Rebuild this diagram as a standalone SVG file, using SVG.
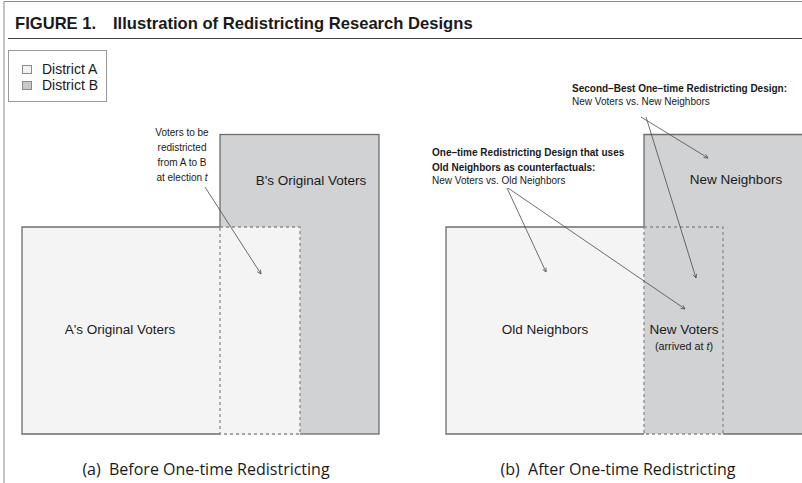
<svg xmlns="http://www.w3.org/2000/svg" width="802" height="483" viewBox="0 0 802 483">
  <style>
    .sans { font-family: "Liberation Sans", Arial, Helvetica, sans-serif; fill: #1a1a1a; }
    .title { font-size: 16.6px; font-weight: bold; }
    .legend { font-size: 14px; }
    .label { font-size: 13.5px; text-anchor: middle; }
    .note { font-size: 10px; }
    .noteb { font-size: 10px; font-weight: bold; }
    .small { font-size: 10.8px; text-anchor: middle; }
    .caption { font-family: "Open Sans", "Noto Sans", sans-serif; font-size: 16px; fill: #1a1a1a; text-anchor: middle; white-space: pre; }
    .lightFill { fill: #f4f4f4; }
    .darkFill { fill: #d1d2d4; }
    .solid { fill: none; stroke: #6e6e6e; stroke-width: 1.3; }
    .dashed { fill: none; stroke: #8a8a8a; stroke-width: 1.3; stroke-dasharray: 3 3; }
    .arrow { fill: none; stroke: #4a4a4a; stroke-width: 0.8; marker-end: url(#tip); }
  </style>
  <defs>
    <marker id="tip" viewBox="0 0 10 10" refX="9" refY="5" markerWidth="5" markerHeight="5" orient="auto" markerUnits="userSpaceOnUse">
      <path d="M1,1 L9,5 L1,9" fill="none" stroke="#4a4a4a" stroke-width="1.4"/>
    </marker>
  </defs>

  <rect width="802" height="483" fill="#ffffff"/>
  <!-- page frame -->
  <path d="M4,483 V1.5 H802" fill="none" stroke="#8a8a8a" stroke-width="1"/>

  <!-- heading -->
  <g id="heading">
    <text class="sans title" x="15" y="29">FIGURE 1.</text>
    <text class="sans title" x="113" y="29">Illustration of Redistricting Research Designs</text>
    <line x1="8" y1="38.5" x2="802" y2="38.5" stroke="#444" stroke-width="1"/>
  </g>

  <!-- legend -->
  <g id="legend">
    <rect x="8.5" y="50.5" width="98" height="51" fill="#fff" stroke="#9a9a9a" stroke-width="1"/>
    <rect x="22.5" y="65.5" width="9" height="8" fill="#f2f2f2" stroke="#8a8a8a" stroke-width="1"/>
    <rect x="22.5" y="81.5" width="9" height="8" fill="#c8c9cb" stroke="#8a8a8a" stroke-width="1"/>
    <text class="sans legend" x="42" y="74">District A</text>
    <text class="sans legend" x="42" y="90">District B</text>
  </g>

  <!-- panel (a): before -->
  <g id="districtB-before">
    <rect class="darkFill" x="220" y="134.5" width="159" height="299.5"/>
    <rect class="solid" x="220" y="134.5" width="159" height="299.5"/>
    <text class="sans label" x="311" y="185">B's Original Voters</text>
  </g>
  <g id="districtA-before">
    <rect class="lightFill" x="22" y="227" width="278" height="208"/>
    <path class="solid" d="M220,227 H22 V434 H220"/>
    <text class="sans label" x="120" y="334">A's Original Voters</text>
  </g>
  <g id="moved-voters-before">
    <rect class="dashed" x="220" y="227" width="80" height="207"/>
  </g>
  <g id="note-moved">
    <text class="sans note" text-anchor="middle" x="182" y="136">Voters to be</text>
    <text class="sans note" text-anchor="middle" x="182" y="151">redistricted</text>
    <text class="sans note" text-anchor="middle" x="182" y="166">from A to B</text>
    <text class="sans note" text-anchor="middle" x="182" y="181">at election <tspan font-style="italic">t</tspan></text>
  </g>
  <text id="caption-a" class="caption" x="206" y="475" xml:space="preserve">(a)  Before One-time Redistricting</text>

  <!-- panel (b): after -->
  <g id="new-neighbors">
    <rect class="darkFill" x="644" y="134.5" width="170" height="299.5"/>
    <path class="solid" d="M644,227 V134.5 H814 M723,434 H814"/>
    <text class="sans label" x="736" y="184">New Neighbors</text>
  </g>
  <g id="old-neighbors">
    <rect class="lightFill" x="446" y="227" width="198" height="207"/>
    <path class="solid" d="M644,227 H446 V434 H644"/>
    <text class="sans label" x="545" y="334">Old Neighbors</text>
  </g>
  <g id="new-voters">
    <rect class="dashed" x="644" y="227" width="79" height="207"/>
    <text class="sans label" x="684" y="334">New Voters</text>
    <text class="sans small" x="684" y="350">(arrived at <tspan font-style="italic">t</tspan>)</text>
  </g>
  <g id="note-second-best">
    <text class="sans noteb" x="572" y="92">Second–Best One–time Redistricting Design:</text>
    <text class="sans note" x="572" y="105">New Voters vs. New Neighbors</text>
  </g>
  <g id="note-old-neighbors">
    <text class="sans noteb" x="432" y="156">One–time Redistricting Design that uses</text>
    <text class="sans noteb" x="432" y="171">Old Neighbors as counterfactuals:</text>
    <text class="sans note" x="432" y="184">New Voters vs. Old Neighbors</text>
  </g>
  <text id="caption-b" class="caption" x="618" y="475" xml:space="preserve">(b)  After One-time Redistricting</text>

  <!-- connectors -->
  <g id="connectors">
    <line class="arrow" x1="205" y1="187" x2="261" y2="274"/>
    <line class="arrow" x1="641" y1="117" x2="708" y2="158"/>
    <line class="arrow" x1="646" y1="117" x2="696" y2="278"/>
    <line class="arrow" x1="507" y1="188" x2="546" y2="272"/>
    <line class="arrow" x1="508" y1="188" x2="685" y2="309"/>
  </g>
</svg>
